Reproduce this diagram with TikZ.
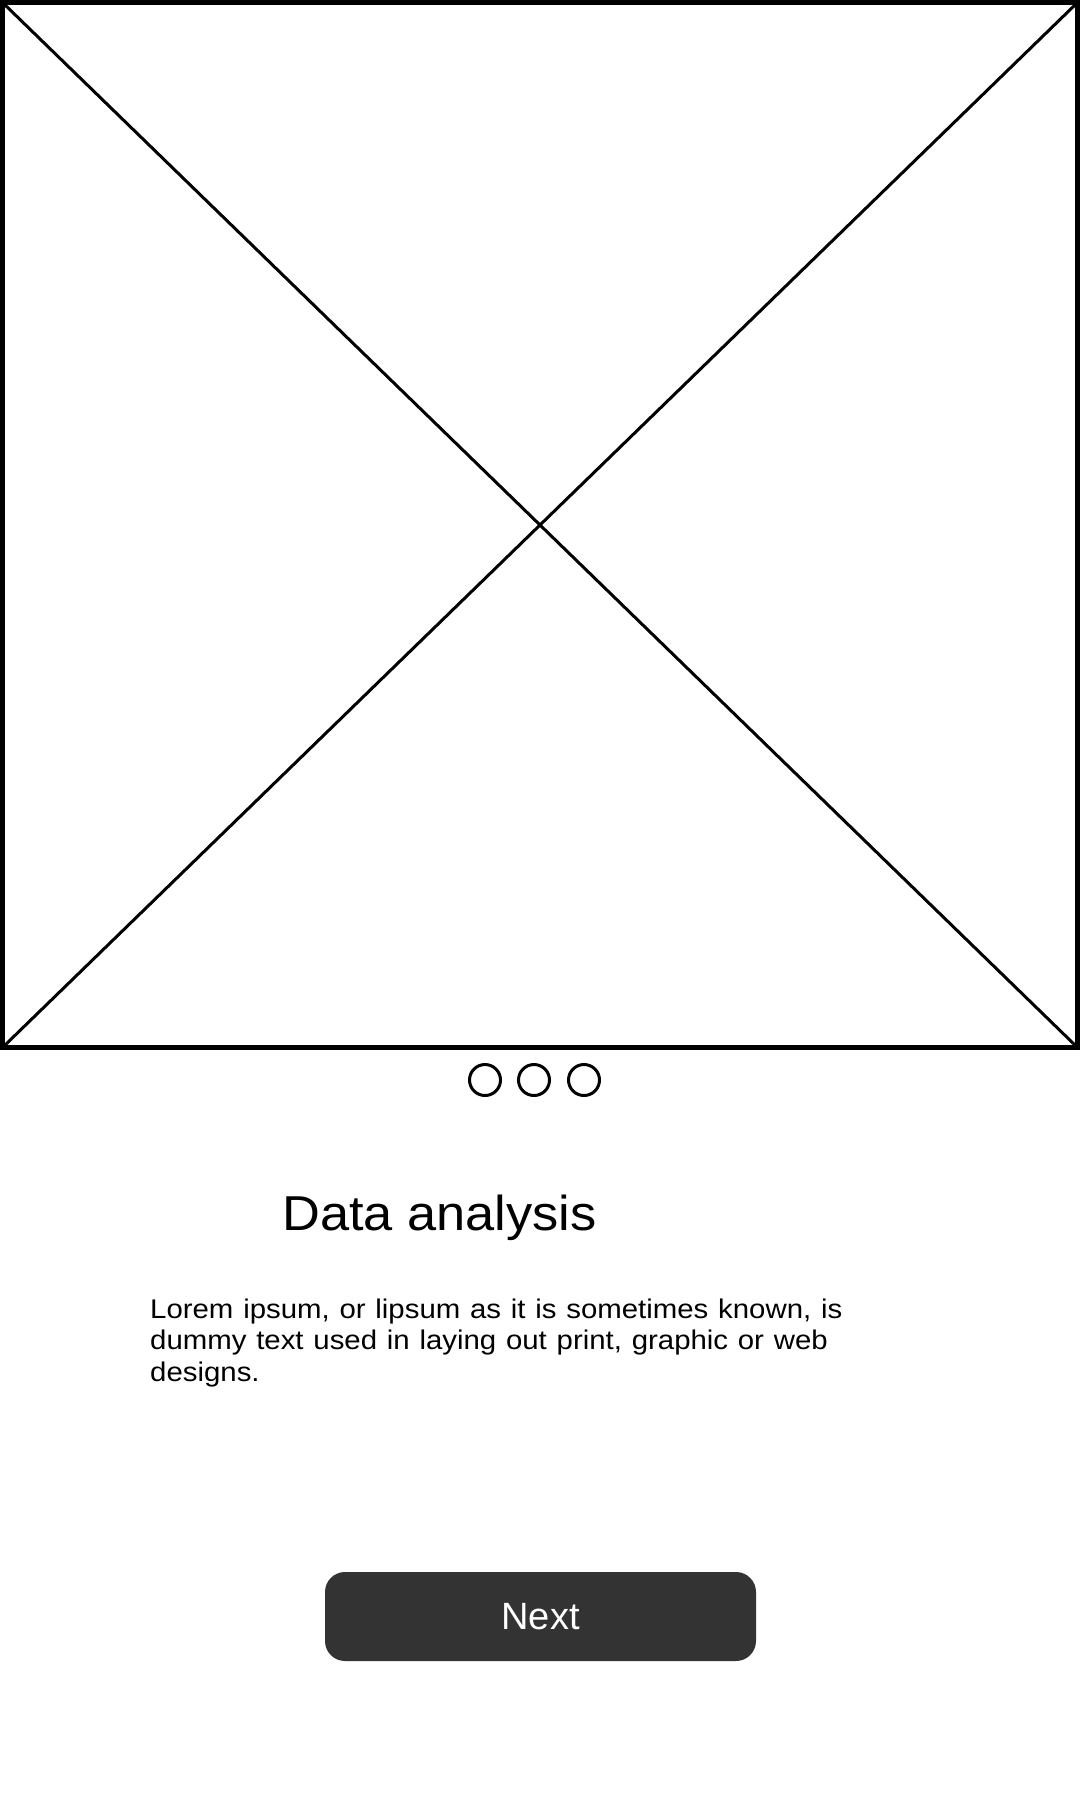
\documentclass[tikz,border=0pt]{standalone}
\usepackage{fontspec}
\setmainfont{Liberation Sans}
\definecolor{btngray}{HTML}{333333}
\begin{document}
\begin{tikzpicture}[x=1pt,y=-1pt,
  frame/.style={draw=black,line width=5pt,inner sep=0pt,outer sep=0pt,minimum width=1075pt,minimum height=1045pt},
  diag/.style={draw=black,line width=3pt},
  dot/.style={circle,draw=black,line width=3pt,minimum size=31pt,inner sep=0pt},
  btn/.style={fill=btngray,rounded corners=20pt,minimum width=431pt,minimum height=89pt,inner sep=0pt,text=white,font=\fontsize{38}{44}\selectfont}
]
\useasboundingbox (0,0) rectangle (1080,1800);
\node[frame] (img) at (540,525) {};
\draw[diag] (img.north west) -- (img.south east);
\draw[diag] (img.north east) -- (img.south west);
\node[dot] (d1) at (485,1080) {};
\node[dot] (d2) at (534,1080) {};
\node[dot] (d3) at (584,1080) {};
\node[anchor=base west,inner sep=0pt,xscale=1.069,transform shape,font=\fontsize{49}{57}\selectfont] (title) at (282,1230) {Data analysis};
\node[anchor=base west,inner sep=0pt,xscale=1.088,transform shape,text width=800pt,align=left,font=\fontsize{27}{31.5}\selectfont] (body) at (150,1318)
  {Lorem ipsum, or lipsum as it is sometimes known, is\\dummy text used in laying out print, graphic or web\\designs.};
\node[btn] (next) at (540.5,1616.5) {Next};
\end{tikzpicture}
\end{document}
